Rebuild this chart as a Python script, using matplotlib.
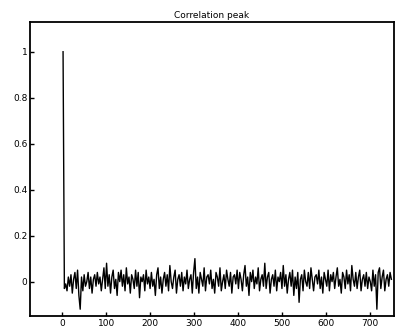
# Correlation peak plot

import numpy as np
import matplotlib.pyplot as plt

# peak at lag 0, then the noise floor (one every 3 lags)
peak = [1.0]
noise = [
    -0.03, -0.01, -0.04, 0.02, -0.02, 0.03, -0.05, 0.01, 0.04, -0.03, 0.05,
    -0.06, -0.12, 0.02, -0.04, 0.03, -0.02, 0.00, 0.04, -0.03, 0.02, -0.05,
    0.01, 0.03, -0.02, 0.04, -0.01, 0.02, -0.04, 0.01, 0.06, -0.03, 0.08,
    -0.02, 0.03, -0.05, 0.02, 0.05, -0.03, 0.01, -0.06, 0.04, 0.00, 0.05,
    -0.02, 0.03, -0.04, 0.06, -0.01, 0.02, -0.05, 0.03, 0.01, -0.03, 0.05,
    -0.02, 0.04, -0.07, 0.02, 0.00, 0.03, -0.04, 0.05, -0.01, 0.02, -0.03,
    0.04, -0.02, 0.01, -0.06, 0.03, 0.06, -0.03, 0.02, -0.05, 0.01, 0.04,
    -0.02, 0.03, -0.04, 0.07, 0.00, -0.03, 0.02, 0.05, -0.05, 0.01, 0.03,
    -0.02, 0.04, -0.04, 0.02, -0.01, 0.05, -0.03, 0.01, 0.03, -0.05, 0.04,
    0.10, -0.03, 0.02, -0.05, 0.04, 0.01, -0.02, 0.06, -0.04, 0.02, 0.03,
    -0.01, 0.05, -0.03, 0.01, -0.05, 0.04, 0.02, -0.02, 0.06, -0.04, 0.00,
    0.03, -0.03, 0.05, 0.01, -0.02, 0.04, -0.05, 0.02, 0.03, -0.01, 0.05,
    -0.03, 0.04, 0.01, -0.04, 0.03, 0.07, -0.02, 0.02, -0.06, 0.04, 0.00,
    0.05, -0.03, 0.02, -0.01, 0.06, -0.04, 0.01, 0.03, -0.02, 0.08, -0.03,
    0.02, 0.04, -0.05, 0.01, 0.03, -0.02, 0.05, -0.04, 0.02, 0.00, 0.04,
    -0.03, 0.07, -0.02, 0.03, -0.05, 0.01, 0.04, -0.02, 0.05, -0.06, 0.02,
    -0.03, 0.04, -0.09, 0.01, 0.03, -0.04, 0.05, 0.00, -0.02, 0.04, -0.03,
    0.06, 0.01, -0.04, 0.02, 0.03, -0.01, 0.05, -0.03, 0.02, -0.05, 0.04,
    0.01, -0.02, 0.05, -0.04, 0.03, 0.00, 0.04, -0.03, 0.02, 0.06, -0.02,
    0.01, -0.05, 0.04, 0.02, -0.03, 0.05, -0.01, 0.03, -0.04, 0.07, 0.01,
    -0.02, 0.04, -0.03, 0.02, 0.05, -0.04, 0.01, 0.03, -0.02, 0.04, -0.03,
    0.02, 0.00, -0.04, 0.05, -0.02, 0.03, -0.12, 0.04, 0.06, -0.03, 0.02,
    0.05, -0.04, 0.01, 0.03, -0.02, 0.04, 0.01,
]
corr = np.array(peak + noise)
lag = np.arange(len(corr)) * 3 + 2

xticks = [0, 100, 200, 300, 400, 500, 600, 700]
yticks = [0, 0.2, 0.4, 0.6, 0.8, 1]

fig = plt.figure(figsize=(3.96, 3.31), dpi=100)
ax = fig.add_axes([0.076, 0.045, 0.919, 0.889])
ax.plot(lag, corr, color='black', linewidth=1.0)

ax.set_xlim(-73, 755)
ax.set_ylim(-0.15, 1.13)
ax.set_xticks(xticks)
ax.set_yticks(yticks)
ax.set_xticklabels([str(t) for t in xticks])
ax.set_yticklabels(['0', '0.2', '0.4', '0.6', '0.8', '1'])
ax.tick_params(labelsize=6.5, length=3, width=1, direction='in', pad=2)
for s in ax.spines.values():
    s.set_linewidth(1.3)
ax.set_title('Correlation peak', fontsize=6.5, pad=3)

fig.savefig('out.png', dpi=100)
